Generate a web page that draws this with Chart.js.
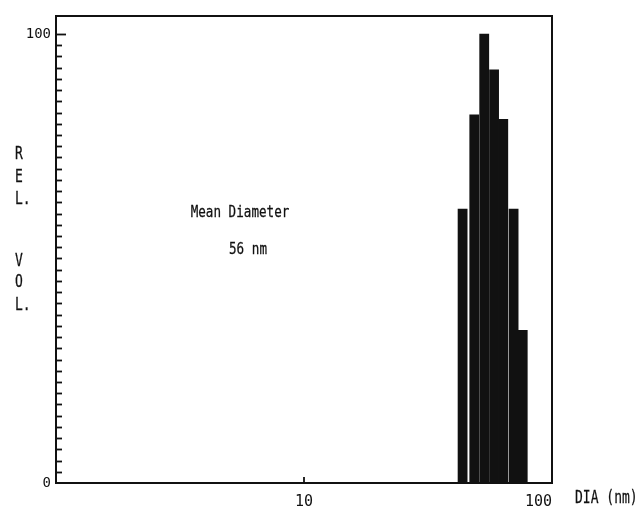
<!DOCTYPE html>
<html>
<head>
<meta charset="utf-8">
<script src="https://cdn.jsdelivr.net/npm/chart.js@4/dist/chart.umd.min.js"></script>
<style>
  body { margin: 0; background: #fff; }
  #wrap { width: 642px; height: 509px; }
</style>
</head>
<body>
<div id="wrap"><canvas id="sizeChart"></canvas></div>
<script>
// --- data ---
const diameters = [43.6, 48.6, 53.3, 58.4, 63.6, 70.0, 76.2]; // nm, bar centres
const relVolume = [61, 82, 100, 92, 81, 61, 34];
const xTickLabels = [10, 100];
const yTickLabels = [0, 100];
const yTitleLetters = ['R', 'E', 'L.', 'V', 'O', 'L.'];
const noteLines = ['Mean Diameter', '56 nm'];
const xTitle = 'DIA (nm)';

const INK = '#111';
const MONO = '"DejaVu Sans Mono", monospace';

// plotter-like lettering: mono font stretched upwards, pen slightly heavier
function tallText(ctx, text, x, y, size, sx, sy) {
    ctx.save();
    ctx.translate(x, y);
    ctx.scale(sx, sy);
    ctx.font = size + 'px ' + MONO;
    ctx.lineWidth = 0.2;
    ctx.fillText(text, 0, 0);
    ctx.strokeText(text, 0, 0);
    ctx.restore();
}

// frame, inner ticks and the loose labels
const framePlugin = {
    id: 'framePlugin',
    afterDraw(chart) {
        const ctx = chart.ctx;
        const a = chart.chartArea;
        const xs = chart.scales.x, ys = chart.scales.y;
        ctx.save();
        ctx.strokeStyle = INK;
        ctx.fillStyle = INK;
        ctx.lineWidth = 2;
        ctx.strokeRect(a.left, a.top, a.right - a.left, a.bottom - a.top);

        // y ticks every 2.5, pointing inwards
        ctx.lineWidth = 1.8;
        for (let v = 2.5; v <= 100; v += 2.5) {
            const yp = Math.round(ys.getPixelForValue(v)) + 0.5;
            const len = v === 100 ? 10 : 6;
            ctx.beginPath();
            ctx.moveTo(a.left, yp);
            ctx.lineTo(a.left + len, yp);
            ctx.stroke();
        }
        // small x tick at 10
        const xp = xs.getPixelForValue(10);
        ctx.beginPath();
        ctx.moveTo(xp, a.bottom);
        ctx.lineTo(xp, a.bottom - 6);
        ctx.stroke();

        ctx.textBaseline = 'middle';
        // y title, one letter per line
        const letterY = [155, 178, 200, 262, 283, 306];
        ctx.textAlign = 'left';
        yTitleLetters.forEach((t, i) => {
            tallText(ctx, t, 15, letterY[i], 13, 1, 1.3);
        });
        // note in the plot
        ctx.textAlign = 'center';
        tallText(ctx, noteLines[0], 240, 213, 12, 1.05, 1.35);
        tallText(ctx, noteLines[1], 248, 250, 12, 1.05, 1.35);
        // x title to the right of the axis
        ctx.textAlign = 'left';
        tallText(ctx, xTitle, 575, 499, 13, 1, 1.3);
        ctx.restore();
    }
};

const ctx = document.getElementById('sizeChart').getContext('2d');
const sizeChart = new Chart(ctx, {
    type: 'bar',
    data: {
        datasets: [{
            data: diameters.map((d, i) => ({ x: d, y: relVolume[i] })),
            backgroundColor: INK,
            borderWidth: 0,
            barPercentage: 1,
            categoryPercentage: 1
        }]
    },
    options: {
        responsive: true,
        maintainAspectRatio: false,
        animation: false,
        layout: { padding: { left: 0, top: 16, right: 90, bottom: 0 } },
        plugins: {
            legend: { display: false },
            tooltip: { enabled: false }
        },
        scales: {
            x: {
                type: 'logarithmic',
                min: 1,
                max: 100,
                grid: { display: false, drawTicks: false },
                border: { display: false },
                ticks: {
                    autoSkip: false,
                    maxRotation: 0,
                    padding: 10,
                    color: INK,
                    font: { family: MONO, size: 15 },
                    // the last label sits left of the frame corner in the original
                    callback: v => !xTickLabels.includes(v) ? '' : (v === 100 ? '100\u2002\u2002\u2002' : String(v))
                },
                afterFit: s => { s.height = 26; }
            },
            y: {
                min: 0,
                max: 104,
                grid: { display: false, drawTicks: false },
                border: { display: false },
                ticks: {
                    stepSize: 2.5,
                    autoSkip: false,
                    padding: 5,
                    color: INK,
                    font: { family: MONO, size: 14 },
                    callback: v => yTickLabels.includes(v) ? String(v) : ''
                },
                afterFit: s => { s.width = 56; }
            }
        }
    },
    plugins: [framePlugin]
});
</script>
</body>
</html>
